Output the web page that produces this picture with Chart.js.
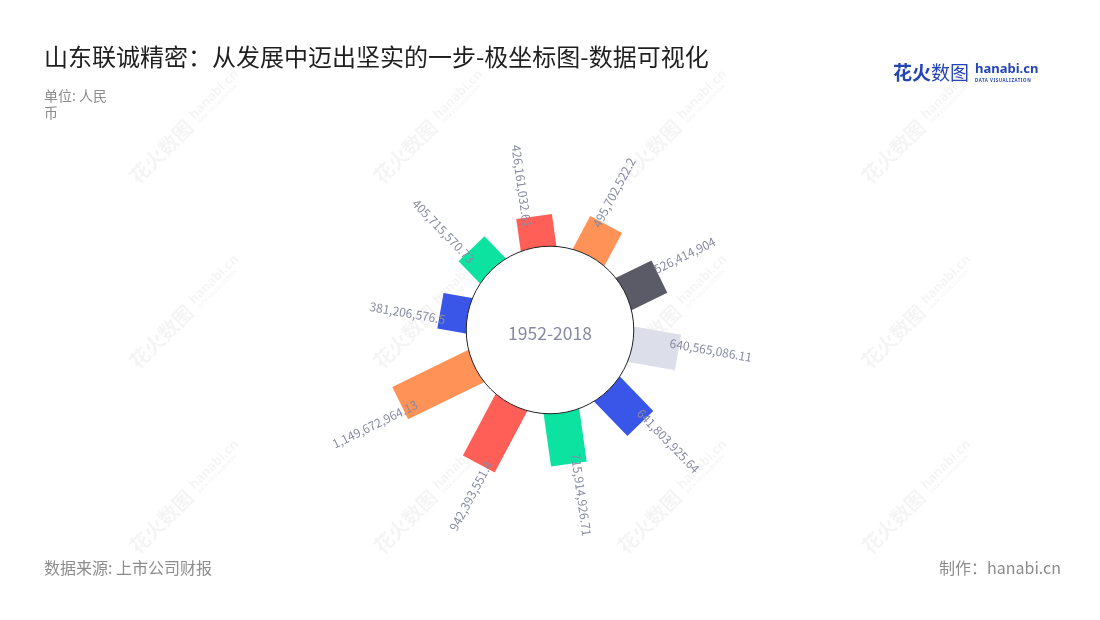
<!DOCTYPE html>
<html lang="zh-CN">
<head>
<meta charset="utf-8">
<title>山东联诚精密：从发展中迈出坚实的一步-极坐标图</title>
<script src="https://cdn.jsdelivr.net/npm/chart.js@4.4.1/dist/chart.umd.min.js"></script>
<style>
    body { margin: 0; background: #fff; font-family: "Noto Sans CJK SC", "Noto Sans", sans-serif; }
    .page { position: relative; width: 1100px; height: 620px; overflow: hidden; }
    #polar-chart { position: absolute; left: 0; top: 0; }
    .title { position: absolute; left: 44px; top: 38px; font-size: 24px; line-height: 36px; color: #1f1f1f; white-space: nowrap; }
    .unit { position: absolute; left: 44px; top: 87px; width: 70px; font-size: 14px; line-height: 17px; color: #8c8c8c; }
    .source { position: absolute; left: 44px; top: 555px; font-size: 16px; line-height: 24px; color: #8c8c8c; }
    .maker { position: absolute; right: 39px; top: 555px; font-size: 16px; line-height: 24px; color: #8c8c8c; }
    .logo { position: absolute; left: 893px; top: 58px; width: 160px; height: 30px; color: #2445b4; }
    .logo .cn { position: absolute; left: 0; top: 0; font-size: 19px; line-height: 28px; white-space: nowrap; }
    .logo .cn b { font-weight: 700; }
    .logo .en { position: absolute; left: 82px; top: 2px; font-family: "Noto Sans", sans-serif; font-size: 13px; font-weight: 700; line-height: 17px; }
    .logo .sub { position: absolute; left: 82px; top: 19px; font-family: "Noto Sans", sans-serif; font-size: 8px; font-weight: 700; white-space: nowrap; transform: scale(0.55); transform-origin: left top; letter-spacing: 1px; }
</style>
</head>
<body>
<div class="page">
    <canvas id="polar-chart" width="1100" height="620"></canvas>
    <div class="title">山东联诚精密：从发展中迈出坚实的一步-极坐标图-数据可视化</div>
    <div class="unit">单位: 人民币</div>
    <div class="logo">
        <div class="cn"><b>花火</b>数图</div>
        <div class="en">hanabi.cn</div>
        <div class="sub">DATA VISUALIZATION</div>
    </div>
    <div class="source">数据来源: 上市公司财报</div>
    <div class="maker">制作：hanabi.cn</div>
</div>
<script>
// data, clockwise from the left
const categories = ['1', '2', '3', '4', '5', '6', '7', '8', '9', '10'];
const values = [381206576.5, 405715570.73, 426161032.61, 495702522.2, 526414904,
    640565086.11, 641803925.64, 715914926.71, 942393551.4, 1149672964.13];
const barColors = ['#3a56e8', '#0de3a1', '#ff5f57', '#ff9257', '#5a5b66', '#dcdfea'];
const periodLabel = '1952-2018';

const barWidth = 36;
const labelColor = '#878aa2';

function formatValue(v) {
    return v.toLocaleString('en-US', { maximumFractionDigits: 2 });
}

// faint watermark grid
function drawWatermarks(ctx) {
    const xs = [133, 377, 621, 865];
    const ys = [180, 365, 550];
    ctx.save();
    ctx.fillStyle = 'rgba(0, 0, 0, 0.045)';
    ctx.textBaseline = 'middle';
    ys.forEach(y => {
        xs.forEach(x => {
            ctx.save();
            ctx.translate(x, y);
            ctx.rotate(-Math.PI / 4);
            ctx.font = 'bold 20px "Noto Sans CJK SC"';
            ctx.fillText('花火数图', 0, 0);
            ctx.font = 'bold 13px "Noto Sans"';
            ctx.fillText('hanabi.cn', 86, -3);
            ctx.font = 'bold 5px "Noto Sans"';
            ctx.fillText('DATA VISUALIZATION', 87, 6);
            ctx.restore();
        });
    });
    ctx.restore();
}

const polarBars = {
    id: 'polarBars',
    beforeDatasetsDraw(chart) {
        drawWatermarks(chart.ctx);
    },
    afterDatasetsDraw(chart) {
        const ctx = chart.ctx;
        const scale = chart.scales.r;
        const meta = chart.getDatasetMeta(0);
        const cx = scale.xCenter;
        const cy = scale.yCenter;

        // bars, from the centre out to each point the scale gives
        meta.data.forEach((pt, i) => {
            const angle = scale.getIndexAngle(i) - Math.PI / 2;
            const len = Math.hypot(pt.x - cx, pt.y - cy);
            ctx.save();
            ctx.translate(cx, cy);
            ctx.rotate(angle);
            ctx.fillStyle = barColors[i % barColors.length];
            ctx.fillRect(0, -barWidth / 2, len, barWidth);
            ctx.restore();
        });

        // inner circle sits on the zero of the radial scale
        const inner = scale.getDistanceFromCenterForValue(0);
        ctx.save();
        ctx.beginPath();
        ctx.arc(cx, cy, inner, 0, Math.PI * 2);
        ctx.fillStyle = '#fff';
        ctx.fill();
        ctx.lineWidth = 1;
        ctx.strokeStyle = '#222';
        ctx.stroke();
        ctx.fillStyle = labelColor;
        ctx.font = '17.5px "Noto Sans CJK SC"';
        ctx.textAlign = 'center';
        ctx.textBaseline = 'middle';
        ctx.fillText(periodLabel, cx, cy + 3);
        ctx.restore();

        // value labels along each bar
        ctx.save();
        ctx.font = '12px "Noto Sans CJK SC"';
        ctx.fillStyle = labelColor;
        ctx.textAlign = 'center';
        ctx.textBaseline = 'middle';
        meta.data.forEach((pt, i) => {
            const angle = scale.getIndexAngle(i) - Math.PI / 2;
            const len = Math.hypot(pt.x - cx, pt.y - cy) + 32;
            const side = angle - Math.PI / 2;
            const x = cx + Math.cos(angle) * len + Math.cos(side) * 8;
            const y = cy + Math.sin(angle) * len + Math.sin(side) * 8;
            ctx.save();
            ctx.translate(x, y);
            ctx.rotate(Math.cos(angle) >= 0 ? angle : angle + Math.PI);
            ctx.fillText(formatValue(values[i]), 0, 0);
            ctx.restore();
        });
        ctx.restore();
    }
};

document.addEventListener('DOMContentLoaded', function() {
    const ctx = document.getElementById('polar-chart').getContext('2d');
    new Chart(ctx, {
        type: 'radar',
        data: {
            labels: categories,
            datasets: [{
                label: '金额',
                data: values,
                showLine: false,
                borderWidth: 0,
                borderColor: 'transparent',
                backgroundColor: 'transparent',
                pointRadius: 0,
                pointHoverRadius: 0
            }]
        },
        options: {
            responsive: false,
            animation: false,
            devicePixelRatio: 1,
            layout: {
                padding: { left: 350, right: 350, top: 130, bottom: 90 }
            },
            plugins: {
                legend: { display: false },
                tooltip: { enabled: false }
            },
            scales: {
                r: {
                    min: -1162000000,
                    max: 1612000000,
                    startAngle: 280,
                    grid: { display: false },
                    angleLines: { display: false },
                    pointLabels: { display: false },
                    ticks: { display: false }
                }
            }
        },
        plugins: [polarBars]
    });
});
</script>
</body>
</html>
